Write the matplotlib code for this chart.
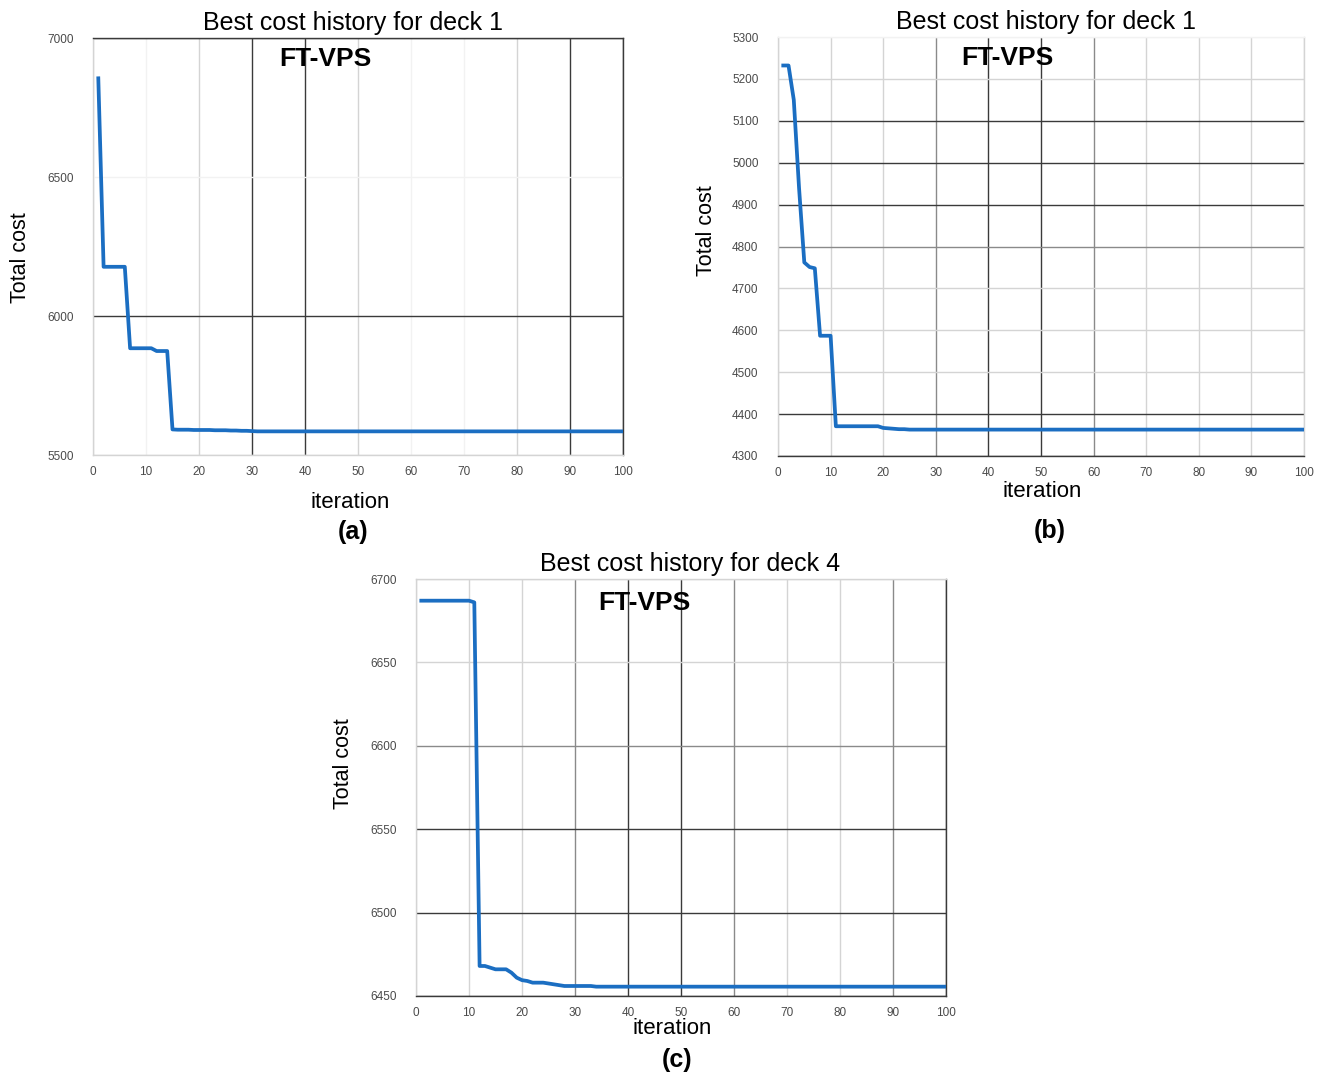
import matplotlib
matplotlib.use('Agg')
import matplotlib.pyplot as plt

plt.rcParams['font.family'] = ['Liberation Sans', 'DejaVu Sans']

# best cost per iteration (plateau repeated to iteration 100)
iters = list(range(1, 101))
cost_a = ([6855, 6177, 6177, 6177, 6177, 6177, 5884, 5884, 5884, 5884, 5884,
           5874, 5874, 5874, 5592, 5591, 5591, 5591, 5590, 5590, 5590, 5590,
           5589, 5589, 5589, 5588, 5588, 5587, 5587, 5586] + [5585] * 70)
cost_b = ([5232, 5232, 5150, 4940, 4762, 4751, 4748, 4587, 4587, 4587, 4371,
           4371, 4371, 4371, 4371, 4371, 4371, 4371, 4371, 4367, 4366, 4365,
           4364, 4364] + [4363] * 76)
cost_c = ([6687, 6687, 6687, 6687, 6687, 6687, 6687, 6687, 6687, 6687, 6686,
           6468, 6468, 6467, 6466, 6466, 6466, 6464, 6461, 6459.5, 6459,
           6458, 6458, 6458, 6457.5, 6457, 6456.5, 6456, 6456, 6456, 6456,
           6456, 6456] + [6455.6] * 67)

titles = ['Best cost history for deck 1', 'Best cost history for deck 1',
          'Best cost history for deck 4']
panel_tags = ['(a)', '(b)', '(c)']
x_ticks = list(range(0, 101, 10))
y_ticks_a = [5500, 6000, 6500, 7000]
y_ticks_b = list(range(4300, 5301, 100))
y_ticks_c = [6450, 6500, 6550, 6600, 6650, 6700]

W, H = 1323, 1077
fig = plt.figure(figsize=(W / 100, H / 100), dpi=100)
fig.patch.set_facecolor('white')

DARK, MID, LIGHT, NONE = '#3a3a3a', '#8a8a8a', '#d4d4d4', '#f2f2f2'


def box(l, t, r, b):
    return [l / W, 1 - b / H, (r - l) / W, (b - t) / H]


def draw(rect, ys, yticks, title, tag, xgrid, ygrid, spines, pos):
    ax = fig.add_axes(rect)
    ax.plot(iters, ys, color='#1b6ec2', lw=2.7, solid_joinstyle='round', zorder=3)
    ax.set_xlim(0, 100)
    ax.set_ylim(yticks[0], yticks[-1])
    ax.set_xticks(x_ticks)
    ax.set_yticks(yticks)
    ax.tick_params(length=0, labelsize=8.5, labelcolor='#4a4a4a')
    ax.tick_params(axis='y', pad=14)
    ax.tick_params(axis='x', pad=8)
    ax.grid(True, lw=1.0)
    for ln, c in zip(ax.get_xgridlines(), xgrid):
        ln.set_color(c)
    for ln, c in zip(ax.get_ygridlines(), ygrid):
        ln.set_color(c)
    for side, c in spines.items():
        ax.spines[side].set_color(c)
        ax.spines[side].set_linewidth(1.0)
    tx, ftx, ftyy, ylx, yly, xlx, xly, tgx, tgy = pos
    ax.text(tx, 1.008, title, transform=ax.transAxes, ha='center', va='bottom',
            fontsize=18)
    ax.text(ftx, ftyy, 'FT-VPS', transform=ax.transAxes, ha='center',
            va='center', fontsize=19, fontweight='bold')
    ax.text(ylx, yly, 'Total cost', transform=ax.transAxes, rotation=90,
            ha='center', va='center', fontsize=15.5)
    ax.text(xlx, xly, 'iteration', transform=ax.transAxes, ha='center',
            va='center', fontsize=16)
    ax.text(tgx, tgy, tag, transform=ax.transAxes, ha='center', va='center',
            fontsize=18, fontweight='bold')
    return ax


draw(box(93, 38, 623, 455), cost_a, y_ticks_a, titles[0], panel_tags[0],
     [LIGHT, NONE, LIGHT, DARK, DARK, LIGHT, NONE, NONE, LIGHT, DARK, DARK],
     [LIGHT, DARK, NONE, DARK],
     {'left': LIGHT, 'bottom': LIGHT, 'top': DARK, 'right': DARK},
     (0.49, 0.439, 0.95, -0.136, 0.474, 0.486, -0.113, 0.49, -0.185))

draw(box(778, 37, 1304, 456), cost_b, y_ticks_b, titles[1], panel_tags[1],
     [LIGHT, LIGHT, LIGHT, MID, DARK, DARK, MID, LIGHT, LIGHT, LIGHT, LIGHT],
     [DARK, DARK, LIGHT, LIGHT, LIGHT, MID, DARK, DARK, DARK, LIGHT, NONE],
     {'left': LIGHT, 'bottom': DARK, 'top': NONE, 'right': LIGHT},
     (0.51, 0.437, 0.95, -0.136, 0.538, 0.503, -0.084, 0.516, -0.18))

draw(box(416, 579, 946, 996), cost_c, y_ticks_c, titles[2], panel_tags[2],
     [LIGHT, LIGHT, LIGHT, MID, DARK, DARK, MID, LIGHT, LIGHT, MID, DARK],
     [DARK, DARK, DARK, MID, LIGHT, LIGHT],
     {'left': LIGHT, 'bottom': DARK, 'top': LIGHT, 'right': DARK},
     (0.518, 0.431, 0.943, -0.136, 0.557, 0.483, -0.079, 0.492, -0.153))

fig.savefig('out.png', dpi=100, facecolor='white')
